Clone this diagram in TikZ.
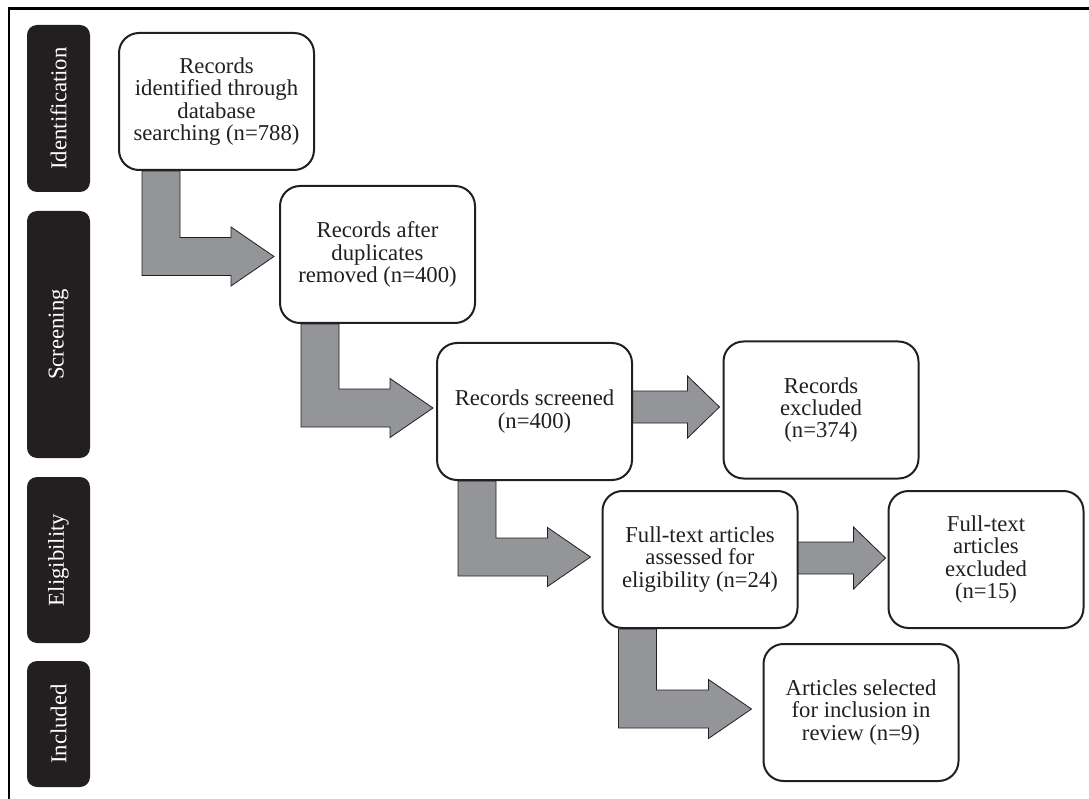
\documentclass[tikz,border=0pt]{standalone}
\usepackage{fontspec}
\setmainfont{Liberation Serif}
\usetikzlibrary{calc}
\definecolor{ink}{HTML}{231F20}
\definecolor{arrowgray}{HTML}{939598}
\pgfdeclarelayer{background}
\pgfsetlayers{background,main}
\tikzset{
  box/.style={draw=ink, line width=2pt, fill=white, rounded corners=20pt,
    minimum width=195pt, minimum height=137pt, inner sep=0pt, align=center,
    font=\fontsize{22.7}{22.4}\selectfont, text=ink},
  phase/.style={fill=ink, rounded corners=10pt, rotate=90, inner sep=0pt,
    minimum height=63pt, text=white, font=\fontsize{22.7}{22.4}\selectfont},
  arrowshape/.style={fill=arrowgray, draw=ink, line width=0.8pt, line join=miter},
  frameline/.style={draw=black, line width=2.5pt}
}
% elbow arrow: #1 source node, #2 target node, #3 shaft x offset, #4 tip offset
\newcommand{\elbowarrow}[4]{%
  \begin{pgfonlayer}{background}
  \coordinate (s) at ($(#1.south west)+(#3,0)$);
  \coordinate (t) at ($(#2.west)+#4$);
  \draw[arrowshape] (s) -- ++(38,0) -- ($(s|-t)+(38,-19)$) -- ($(t)+(-43,-19)$)
    -- ($(t)+(-43,-29.5)$) -- (t) -- ($(t)+(-43,29.5)$) -- ($(t)+(-43,19)$)
    -- ($(s|-t)+(0,19)$) -- cycle;
  \end{pgfonlayer}}
% straight arrow: #1 source node, #2 target node, #3 tip offset
\newcommand{\sidearrow}[3]{%
  \begin{pgfonlayer}{background}
  \coordinate (t) at ($(#2.west)+#3$);
  \draw[arrowshape] ($(#1.east|-t)+(0,-16)$) -- ($(t)+(-32,-16)$) -- ($(t)+(-32,-31)$)
    -- (t) -- ($(t)+(-32,31)$) -- ($(t)+(-32,16)$) -- ($(#1.east|-t)+(-2,16)$)
    -- ($(#1.east|-t)+(-2,-16)$) -- cycle;
  \end{pgfonlayer}}
\begin{document}
\begin{tikzpicture}[x=1pt,y=-1pt]
\useasboundingbox (0,0) rectangle (1089,799);
% frame (top and left edges only)
\coordinate (fc) at (9,8.5);
\draw[frameline] (fc |- 0,799) -- (fc) -- (1089,8.5);

% phase labels
\node[phase, minimum width=167pt] (pid) at (58.5,108.5) {Identification};
\node[phase, minimum width=247pt] (psc) at (58.5,334.5) {Screening};
\node[phase, minimum width=166pt] (pel) at (58.5,560) {Eligibility};
\node[phase, minimum width=126pt] (pin) at (58.5,724) {Included};

% boxes
\node[box] (b1) at (216.5,101.5) {Records\\identified through\\database\\searching (n=788)};
\node[box] (b2) at (377.5,254.5) {Records after\\duplicates\\removed (n=400)};
\node[box] (b3) at (534.5,411.5) {Records screened\\(n=400)};
\node[box] (b4) at (821,410) {Records\\excluded\\(n=374)};
\node[box] (b5) at (700,559.5) {Full-text articles\\assessed for\\eligibility (n=24)};
\node[box] (b6) at (986,559.5) {Full-text\\articles\\excluded\\(n=15)};
\node[box] (b7) at (861,712.5) {Articles selected\\for inclusion in\\review (n=9)};

% connectors
\elbowarrow{b1}{b2}{24}{(-5,2)}
\elbowarrow{b2}{b3}{22}{(-3,-3.5)}
\elbowarrow{b3}{b5}{22}{(-11,-2.5)}
\elbowarrow{b5}{b7}{17}{(-11,-3.5)}
\sidearrow{b3}{b4}{(-3,-3)}
\sidearrow{b5}{b6}{(-2,-1.5)}
\end{tikzpicture}
\end{document}
